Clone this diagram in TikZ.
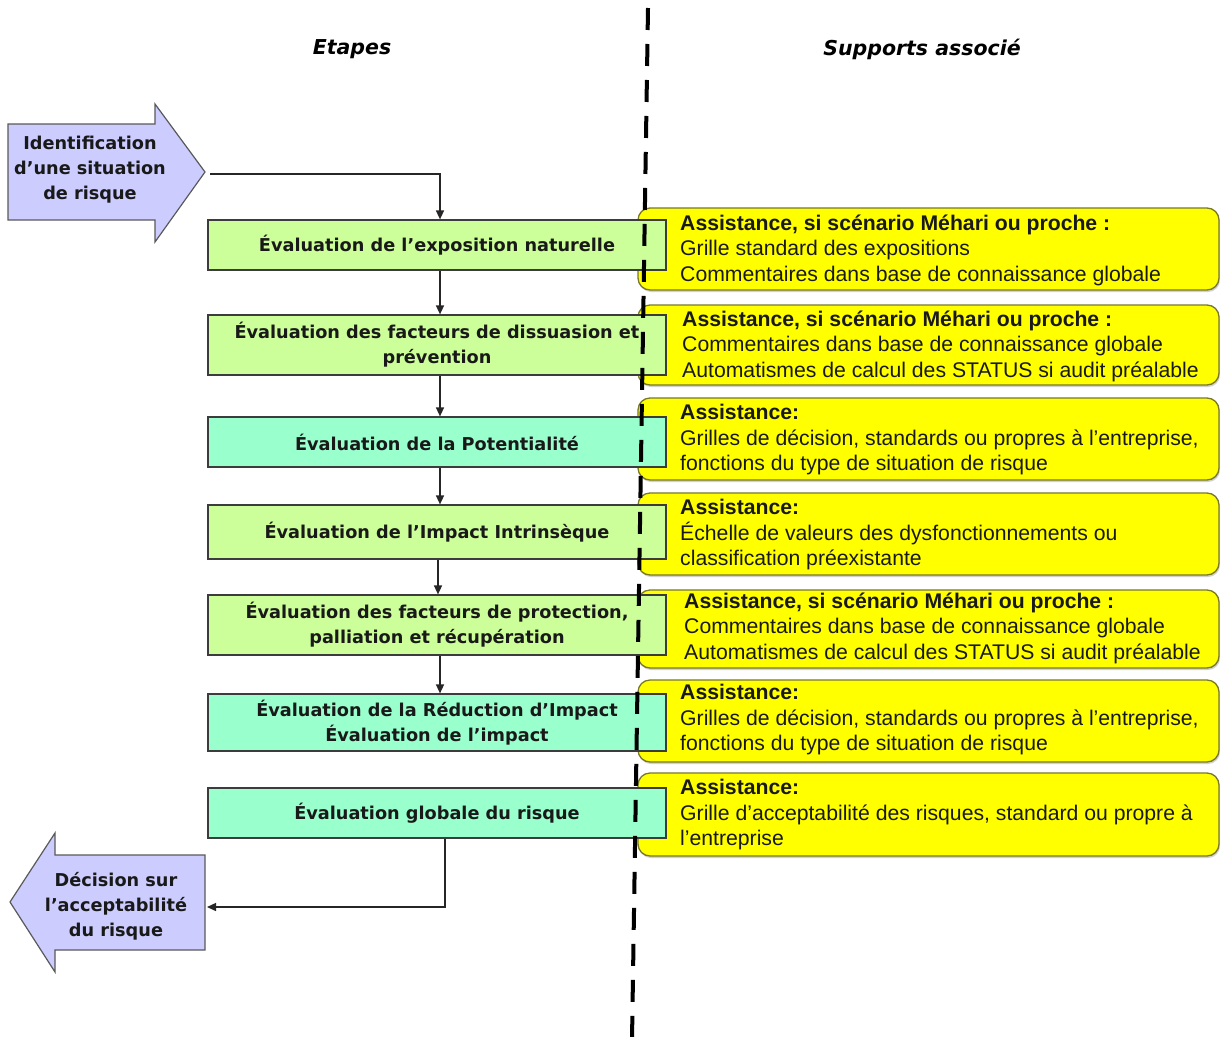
\documentclass[tikz,border=0pt]{standalone}
\usepackage{fontspec}
\setmainfont{Liberation Sans}
\newfontfamily\stepfont{DejaVu Sans}
\usetikzlibrary{arrows.meta,shadows}
\definecolor{lav}{RGB}{204,204,255}
\definecolor{lgreen}{RGB}{204,255,153}
\definecolor{lteal}{RGB}{153,255,204}
\definecolor{yel}{RGB}{255,255,0}
\definecolor{olivebord}{RGB}{120,120,40}
\definecolor{bord}{RGB}{60,60,60}
\begin{document}
\begin{tikzpicture}[x=1pt,y=-1pt,
  stepbox/.style={draw=bord,line width=1.2pt,minimum width=458pt,inner sep=0pt,align=center,
    font=\stepfont\bfseries\fontsize{17.7}{25}\selectfont,text=black!90},
  ybox/.style={draw=olivebord,fill=yel,rounded corners=12pt,line width=1.3pt,minimum width=581pt,inner sep=0pt,
    drop shadow={shadow xshift=1pt,shadow yshift=-2pt,fill=black!30,opacity=0.6}},
  ytext/.style={align=left,inner sep=0pt,anchor=west,font=\fontsize{21.2}{25.5}\selectfont,text=black!90},
  bigarrow/.style={draw=black!65,fill=lav,line width=1.2pt,line join=miter},
  arrowtext/.style={align=center,inner sep=0pt,font=\stepfont\bfseries\fontsize{17.7}{25}\selectfont,text=black!90},
  titlefont/.style={inner sep=0pt,font=\stepfont\bfseries\itshape\fontsize{20.5}{24}\selectfont},
  arr/.style={draw=black!85,line width=1.4pt,-{Triangle[length=9pt,width=8pt]}},
  divider/.style={draw=black,line width=4pt,dash pattern=on 22pt off 14pt}
]
\useasboundingbox (0,0) rectangle (1220,1036);

% titles
\node[titlefont] (et) at (352,49) {Etapes};
\node[titlefont] (sa) at (922,49) {Supports associé};

% yellow support boxes
\node[ybox,minimum height=82pt] (y1) at (928.5,249) {};
\node[ybox,minimum height=80pt] (y2) at (928.5,345) {};
\node[ybox,minimum height=82pt] (y3) at (928.5,439) {};
\node[ybox,minimum height=82pt] (y4) at (928.5,534) {};
\node[ybox,minimum height=78pt] (y5) at (928.5,629) {};
\node[ybox,minimum height=82pt] (y6) at (928.5,721) {};
\node[ybox,minimum height=83pt] (y7) at (928.5,814.5) {};

\node[ytext] (t1) at (680,250) {\textbf{Assistance, si scénario Méhari ou proche :}\\Grille standard des expositions\\Commentaires dans base de connaissance globale};
\node[ytext] (t2) at (682,346) {\textbf{Assistance, si scénario Méhari ou proche :}\\Commentaires dans base de connaissance globale\\Automatismes de calcul des STATUS si audit préalable};
\node[ytext] (t3) at (680,440) {\textbf{Assistance:}\\Grilles de décision, standards ou propres à l’entreprise,\\fonctions du type de situation de risque};
\node[ytext] (t4) at (680,535) {\textbf{Assistance:}\\Échelle de valeurs des dysfonctionnements ou\\classification préexistante};
\node[ytext] (t5) at (684,628) {\textbf{Assistance, si scénario Méhari ou proche :}\\Commentaires dans base de connaissance globale\\Automatismes de calcul des STATUS si audit préalable};
\node[ytext] (t6) at (680,720) {\textbf{Assistance:}\\Grilles de décision, standards ou propres à l’entreprise,\\fonctions du type de situation de risque};
\node[ytext] (t7) at (680,815) {\textbf{Assistance:}\\Grille d’acceptabilité des risques, standard ou propre à\\l’entreprise};

% step boxes
\node[stepbox,fill=lgreen,minimum height=50pt] (s1) at (437,245) {Évaluation de l’exposition naturelle};
\node[stepbox,fill=lgreen,minimum height=60pt] (s2) at (437,345) {Évaluation des facteurs de dissuasion et\\prévention};
\node[stepbox,fill=lteal,minimum height=50pt] (s3) at (437,442) {Évaluation de la Potentialité};
\node[stepbox,fill=lgreen,minimum height=54pt] (s4) at (437,532) {Évaluation de l’Impact Intrinsèque};
\node[stepbox,fill=lgreen,minimum height=60pt] (s5) at (437,625) {Évaluation des facteurs de protection,\\palliation et récupération};
\node[stepbox,fill=lteal,minimum height=57pt] (s6) at (437,722.5) {Évaluation de la Réduction d’Impact\\Évaluation de l’impact};
\node[stepbox,fill=lteal,minimum height=50pt] (s7) at (437,813) {Évaluation globale du risque};

% input arrow
\draw[bigarrow] (8,124) -- (155,124) -- (155,104) -- (205,172) -- (155,242) -- (155,220) -- (8,220) -- cycle;
\node[arrowtext] (inp) at (90,170) {Identification\\d’une situation\\de risque};
\coordinate (intip) at (210,174);

% output arrow
\draw[bigarrow] (205,855) -- (55,855) -- (55,833) -- (10,902) -- (55,972) -- (55,950) -- (205,950) -- cycle;
\node[arrowtext] (dec) at (116,906) {Décision sur\\l’acceptabilité\\du risque};
\coordinate (outtail) at (207,907);

% connectors
\draw[arr] (intip) -| ([xshift=3pt]s1.north);
\draw[arr] ([xshift=3pt]s1.south) -- ([xshift=3pt]s2.north);
\draw[arr] ([xshift=3pt]s2.south) -- ([xshift=3pt]s3.north);
\draw[arr] ([xshift=3pt]s3.south) -- ([xshift=3pt]s4.north);
\draw[arr] ([xshift=1pt]s4.south) -- ([xshift=1pt]s5.north);
\draw[arr] ([xshift=3pt]s5.south) -- ([xshift=3pt]s6.north);
\draw[arr] ([xshift=8pt]s7.south) |- (outtail);

% divider
\coordinate (dtop) at (648,8);
\coordinate (dbot) at (632,1040);
\draw[divider] (dtop) -- (dbot);
\end{tikzpicture}
\end{document}
